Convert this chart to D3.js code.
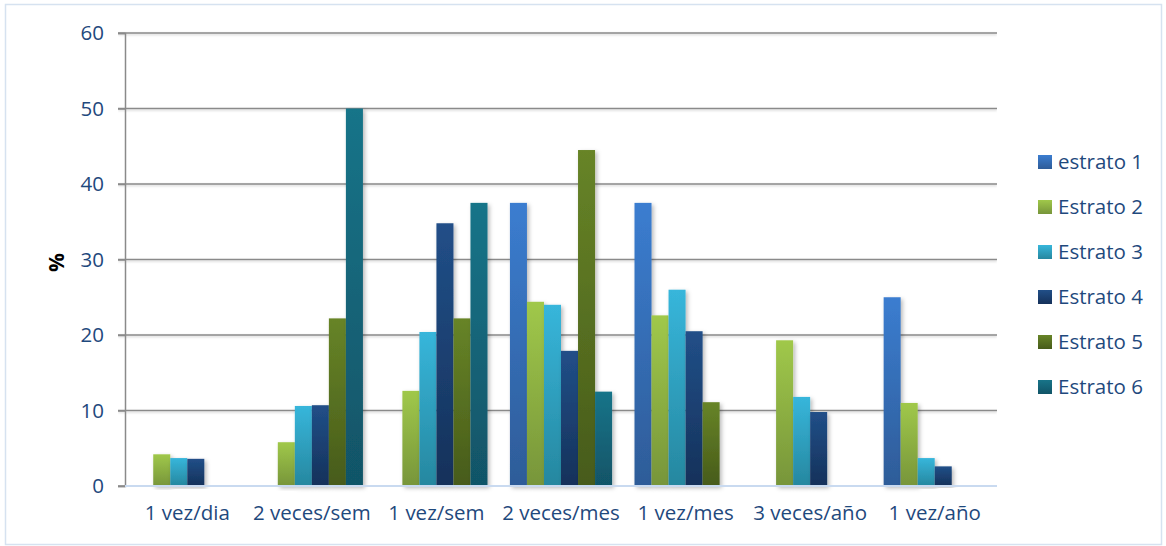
<!DOCTYPE html>
<html>
<head>
<meta charset="utf-8">
<script src="https://cdn.jsdelivr.net/npm/d3@7"></script>
<style>
  html, body { margin: 0; padding: 0; background: #fff; }
  svg { display: block; font-family: "Open Sans", "Liberation Sans", sans-serif; }
</style>
</head>
<body>
<svg id="chart" width="1166" height="546"></svg>
<script>
// Frequency categories along the x axis
const categories = ["1 vez/dia", "2 veces/sem", "1 vez/sem", "2 veces/mes", "1 vez/mes", "3 veces/año", "1 vez/año"];
const seriesNames = ["estrato 1", "Estrato 2", "Estrato 3", "Estrato 4", "Estrato 5", "Estrato 6"];

// Percentages per stratum (null = no bar)
const estrato1 = [null, null, null, 37.5, 37.5, null, 25.0];
const estrato2 = [4.2, 5.8, 12.6, 24.4, 22.6, 19.3, 11.0];
const estrato3 = [3.7, 10.6, 20.4, 24.0, 26.0, 11.8, 3.7];
const estrato4 = [3.6, 10.7, 34.8, 17.9, 20.5, 9.8, 2.6];
const estrato5 = [null, 22.2, 22.2, 44.5, 11.1, null, null];
const estrato6 = [null, 50.0, 37.5, 12.5, null, null, null];
const yTicks = [0, 10, 20, 30, 40, 50, 60];

const seriesValues = [estrato1, estrato2, estrato3, estrato4, estrato5, estrato6];
const colorsTop = ["#3b7dd0", "#a0c84a", "#37b6db", "#214f88", "#678427", "#187489"];
const colorsBot = ["#2e5c98", "#77953a", "#26879f", "#15315a", "#475b1a", "#115467"];

const svg = d3.select("#chart");
const margin = { left: 125, right: 169, top: 33, bottom: 60 };
const W = 1166, H = 546;
const x0 = margin.left, x1 = W - margin.right;
const yTop = margin.top, yBot = H - margin.bottom;
const labelFont = 20.5;

const defs = svg.append("defs");
seriesNames.forEach((s, i) => {
  const g = defs.append("linearGradient").attr("id", "grad" + i)
    .attr("x1", 0).attr("y1", 0).attr("x2", 0).attr("y2", 1);
  g.append("stop").attr("offset", "0%").attr("stop-color", colorsTop[i]);
  g.append("stop").attr("offset", "100%").attr("stop-color", colorsBot[i]);
});
const shadow = defs.append("filter").attr("id", "shadow")
  .attr("x", "-20%").attr("y", "-5%").attr("width", "160%").attr("height", "115%");
shadow.append("feDropShadow").attr("dx", 2).attr("dy", 2).attr("stdDeviation", 2.2)
  .attr("flood-color", "#000").attr("flood-opacity", 0.28);
const lineShadow = defs.append("filter").attr("id", "lshadow")
  .attr("x", "0%").attr("y", "-200%").attr("width", "100%").attr("height", "500%");
lineShadow.append("feDropShadow").attr("dx", 0).attr("dy", 1.2).attr("stdDeviation", 0.8)
  .attr("flood-color", "#000").attr("flood-opacity", 0.2);

// Outer chart border
svg.append("rect").attr("x", 5.5).attr("y", 4.5).attr("width", W - 10).attr("height", H - 6)
  .attr("fill", "#fff").attr("stroke", "#d6e2f0").attr("stroke-width", 1.5);

const y = d3.scaleLinear().domain([0, 60]).range([yBot, yTop]);
const xBand = d3.scaleBand().domain(categories).range([x0, x1]).paddingInner(0.18).paddingOuter(0.09);
const xInner = d3.scaleBand().domain(d3.range(seriesNames.length)).range([0, xBand.bandwidth()]);

// Gridlines
const grid = svg.append("g").attr("filter", "url(#lshadow)");
grid.selectAll("line").data(yTicks.filter(t => t > 0)).join("line")
  .attr("x1", x0 - 7).attr("x2", x1)
  .attr("y1", d => y(d)).attr("y2", d => y(d))
  .attr("stroke", "#8a8a8a").attr("stroke-width", 1.5);

// Y axis
const yAxis = svg.append("g").attr("transform", `translate(${x0},0)`)
  .call(d3.axisLeft(y).tickValues(yTicks).tickSize(7).tickPadding(14));
yAxis.select(".domain").attr("stroke", "#8a8a8a").attr("stroke-width", 1.5);
yAxis.selectAll(".tick line").attr("stroke", "#8a8a8a").attr("stroke-width", 1.5);
yAxis.selectAll(".tick text").attr("fill", "#1f497d").attr("font-size", labelFont)
  .attr("font-family", "'Open Sans', sans-serif");

// Bars
const groups = svg.append("g").selectAll("g").data(categories).join("g")
  .attr("transform", d => `translate(${xBand(d)},0)`);
groups.each(function(cat, ci) {
  const data = seriesValues.map((vals, si) => ({ si, v: vals[ci] })).filter(d => d.v != null);
  d3.select(this).selectAll("rect").data(data).join("rect")
    .attr("x", d => xInner(d.si))
    .attr("width", xInner.bandwidth())
    .attr("y", d => y(d.v))
    .attr("height", d => y(0) - y(d.v))
    .attr("fill", d => `url(#grad${d.si})`)
    .attr("filter", "url(#shadow)");
});

// Baseline
svg.append("line").attr("x1", x0).attr("x2", x1).attr("y1", y(0)).attr("y2", y(0))
  .attr("stroke", "#c9daf0").attr("stroke-width", 2);
svg.append("line").attr("x1", x0 - 7).attr("x2", x0).attr("y1", y(0)).attr("y2", y(0))
  .attr("stroke", "#8a8a8a").attr("stroke-width", 1.5);

// X labels
const xAxis = svg.append("g").attr("transform", `translate(0,${y(0)})`)
  .call(d3.axisBottom(xBand).tickSize(0).tickPadding(19));
xAxis.select(".domain").remove();
xAxis.selectAll(".tick text").attr("fill", "#1f497d").attr("font-size", labelFont)
  .attr("font-family", "'Open Sans', sans-serif");

// Y axis title
svg.append("text").attr("transform", `translate(64,${(yTop + yBot) / 2 + 3}) rotate(-90)`)
  .attr("text-anchor", "middle").attr("font-weight", "bold").attr("font-size", 21)
  .attr("fill", "#000").text("%");

// Legend
const legend = svg.append("g").attr("transform", "translate(1038,162)");
const li = legend.selectAll("g").data(seriesNames).join("g")
  .attr("transform", (d, i) => `translate(0,${i * 45})`);
li.append("rect").attr("x", 0).attr("y", -7).attr("width", 14).attr("height", 14)
  .attr("fill", (d, i) => `url(#grad${i})`);
li.append("text").attr("x", 20).attr("y", 0).attr("dy", "0.35em")
  .attr("font-size", labelFont).attr("fill", "#1f497d").text(d => d);
</script>
</body>
</html>
